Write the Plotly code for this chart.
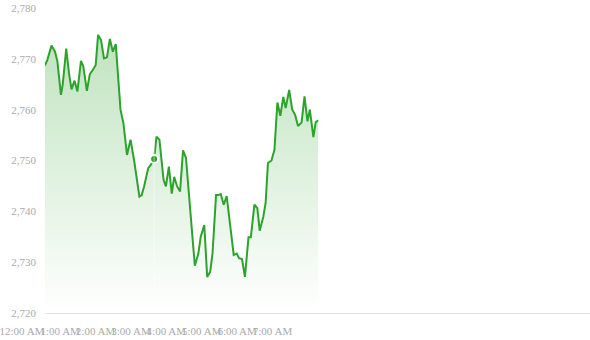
import plotly.graph_objects as go

DAY = "2024-01-01"

times = ["00:00", "00:04", "00:11", "00:17", "00:21", "00:27", "00:30", "00:36", "00:41", "00:45",
         "00:50", "00:55", "01:01", "01:05", "01:11", "01:16", "01:21", "01:26", "01:30", "01:35",
         "01:40", "01:45", "01:50", "01:55", "02:00", "02:04", "02:08", "02:13", "02:19", "02:25",
         "02:31", "02:40", "02:44", "02:48", "02:55", "02:59", "03:05", "03:09", "03:14", "03:21",
         "03:25", "03:30", "03:35", "03:39", "03:44", "03:49", "03:54", "03:59", "04:06", "04:14",
         "04:20", "04:24", "04:30", "04:35", "04:40", "04:44", "04:50", "04:54", "04:58", "05:03",
         "05:08", "05:15", "05:20", "05:25", "05:29", "05:34", "05:39", "05:45", "05:49", "05:55",
         "06:00", "06:04", "06:10", "06:14", "06:18", "06:24", "06:29", "06:34", "06:39", "06:44",
         "06:48", "06:54", "06:59", "07:04", "07:09", "07:15", "07:20", "07:25", "07:29", "07:35",
         "07:39", "07:43"]

prices = [2768.7, 2769.8, 2772.6, 2771.4, 2769.5, 2762.9, 2764.9, 2772.0, 2766.9, 2764.0,
          2765.7, 2763.6, 2769.6, 2768.5, 2763.7, 2767.0, 2767.8, 2768.8, 2774.7, 2773.7,
          2770.1, 2770.3, 2773.9, 2771.4, 2772.9, 2766.2, 2760.0, 2757.3, 2751.1, 2754.1,
          2750.1, 2742.9, 2743.2, 2744.9, 2748.5, 2749.1, 2750.3, 2754.7, 2754.1, 2746.2,
          2744.9, 2748.8, 2743.5, 2746.8, 2744.9, 2743.9, 2752.0, 2750.5, 2740.9, 2729.3,
          2731.7, 2735.0, 2737.3, 2727.1, 2728.1, 2731.7, 2743.2, 2743.2, 2743.4, 2741.3,
          2743.0, 2735.7, 2731.4, 2731.7, 2730.8, 2730.6, 2727.1, 2734.9, 2734.9, 2741.3,
          2740.6, 2736.2, 2738.9, 2741.6, 2749.5, 2750.0, 2752.1, 2761.4, 2758.8, 2762.5,
          2760.3, 2763.9, 2760.1, 2759.0, 2756.8, 2757.5, 2762.6, 2757.7, 2760.0, 2754.6,
          2757.5, 2757.9]

highlight_time = "03:05"
highlight_price = 2750.3

y_min, y_max = 2720, 2780
y_ticks = [2720, 2730, 2740, 2750, 2760, 2770, 2780]
y_ticktext = ["2,720", "2,730", "2,740", "2,750", "2,760", "2,770", "2,780"]

x_ticks = ["00:00", "01:00", "02:00", "03:00", "04:00", "05:00", "06:00", "07:00"]
x_ticktext = ["12:00 AM", "1:00 AM", "2:00 AM", "3:00 AM", "4:00 AM", "5:00 AM", "6:00 AM", "7:00 AM"]
x_range_end = "15:24"

xs = [f"{DAY} {t}" for t in times]
GREEN = "#2ca32c"

fig = go.Figure()
fig.add_trace(go.Scatter(x=xs, y=[y_min] * len(xs), mode="lines",
                         line=dict(width=0), hoverinfo="skip", showlegend=False))
fig.add_trace(go.Scatter(
    x=xs, y=prices, mode="lines", fill="tonexty",
    fillgradient=dict(type="vertical",
                      colorscale=[[0, "rgba(44,163,44,0.0)"], [1, "rgba(44,163,44,0.30)"]]),
    line=dict(color=GREEN, width=2), showlegend=False))

fig.add_shape(type="line", x0=f"{DAY} {highlight_time}", x1=f"{DAY} {highlight_time}",
              y0=y_min, y1=y_max, line=dict(color="rgba(255,255,255,0.5)", width=1))

fig.add_trace(go.Scatter(
    x=[f"{DAY} {highlight_time}"], y=[highlight_price], mode="markers",
    marker=dict(color=GREEN, size=8, line=dict(color="white", width=2)),
    showlegend=False))

font = dict(family="Liberation Serif", size=11, color="#aaaaaa")

fig.update_layout(
    width=590, height=340,
    margin=dict(l=45, r=0, t=8, b=27),
    paper_bgcolor="white", plot_bgcolor="white",
    font=font,
    xaxis=dict(type="date", range=[f"{DAY} 00:00", f"{DAY} {x_range_end}"],
               tickvals=[f"{DAY} {t}" for t in x_ticks], ticktext=x_ticktext,
               tickangle=0,
               ticklabelposition="outside left", ticklabelstandoff=8,
               ticklabeloverflow="allow",
               showgrid=False, zeroline=False, showline=True, linecolor="#e3e3e3", linewidth=1,
               ticks="", tickfont=font),
    yaxis=dict(range=[y_min, y_max], tickvals=y_ticks, ticktext=y_ticktext,
               showgrid=False, zeroline=False, showline=False, ticks="",
               ticklabelstandoff=8, tickfont=font),
)

fig.write_html("out.html")
